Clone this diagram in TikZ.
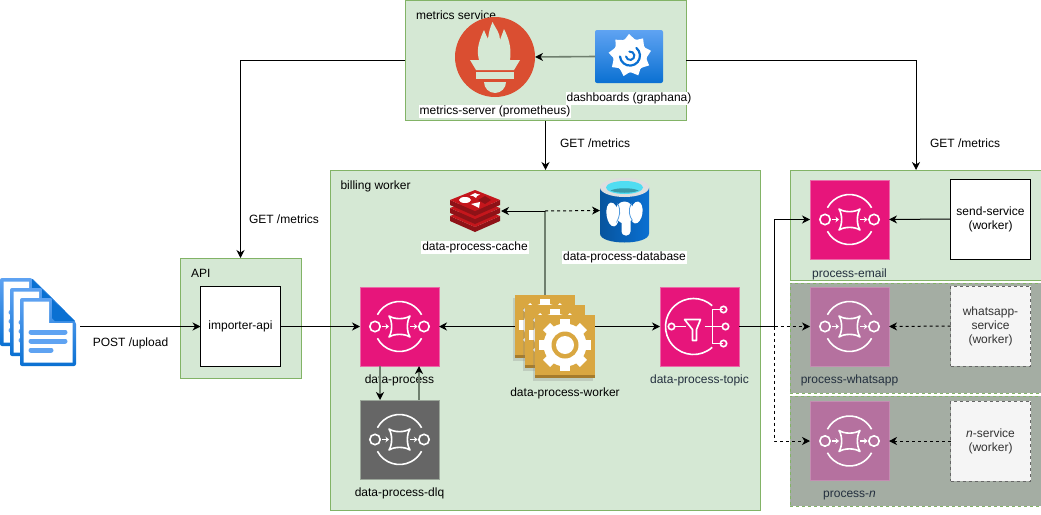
\documentclass[tikz,border=0pt]{standalone}
\usepackage{fontspec}
\setmainfont{Liberation Sans}
\usetikzlibrary{arrows.meta,positioning,shadows}
\definecolor{boxgreen}{HTML}{D5E8D4}
\definecolor{boxedge}{HTML}{82B366}
\definecolor{boxgrey}{HTML}{A4ADA3}
\definecolor{linegrey}{HTML}{6F7F6E}
\definecolor{sqspink}{HTML}{E7157B}
\definecolor{sqsedge}{HTML}{EA6AA8}
\definecolor{sqsfaded}{HTML}{B5719F}
\definecolor{sqsdark}{HTML}{666666}
\definecolor{labelslate}{HTML}{232F3E}
\definecolor{gearsand}{HTML}{D9A741}
\definecolor{gearband}{HTML}{A67C2C}
\definecolor{promred}{HTML}{DA4E31}
\definecolor{bluetop}{HTML}{5FA3F2}
\definecolor{bluelow}{HTML}{0A70D2}
\definecolor{pgcyan}{HTML}{50DDF2}
\definecolor{redistop}{HTML}{C4161C}
\definecolor{redisside}{HTML}{8E1217}
\tikzset{
  pics/queueglyph/.style={code={
    \draw[white, line width=1.6pt] (152:25) arc (152:28:25);
    \draw[white, line width=1.6pt] (208:25) arc (208:332:25);
    \draw[white, line width=1.6pt] (-24.5,0) circle [radius=5.2];
    \draw[white, line width=1.6pt] (24.5,0) circle [radius=5.2];
    \draw[white, line width=1.6pt, line join=round] (-10.5,-10.5) .. controls (-5,-7) and (5,-7) .. (10.5,-10.5) .. controls (7,-5) and (7,5) .. (10.5,10.5) .. controls (5,7) and (-5,7) .. (-10.5,10.5) .. controls (-7,5) and (-7,-5) .. (-10.5,-10.5) -- cycle;
    \draw[white, line width=1.6pt, -{Stealth[length=3.5pt,width=5.5pt]}] (-18,0) -- (-10.5,0);
    \draw[white, line width=1.6pt, -{Stealth[length=3.5pt,width=5.5pt]}] (10.5,0) -- (18,0);
  }},
  pics/topicglyph/.style={code={
    \draw[white, line width=1.6pt] (-6,0) ++(48:28) arc (48:312:28);
    \draw[white, line width=1.6pt, fill=sqspink] (-28,0) circle [radius=3.2];
    \draw[white, line width=1.6pt] (-24.8,0) -- (-14,0);
    \draw[white, line width=1.6pt, line join=round] (-15,-7) -- (1,-7) -- (-3,3) -- (-3,14) -- (-7,14) -- (-7,3) -- cycle;
    \draw[white, line width=1.6pt] (5,0) -- (23,0);
    \draw[white, line width=1.6pt] (23,-17) -- (13,-17) -- (13,17) -- (23,17);
    \draw[white, line width=1.6pt] (24,-17) circle [radius=3.2];
    \draw[white, line width=1.6pt] (26,0) circle [radius=3.2];
    \draw[white, line width=1.6pt] (24,17) circle [radius=3.2];
  }},
  pics/gearglyph/.style={code={
    \foreach \a in {0,45,...,315} {
      \fill[white, rotate=\a] (-5,17) rectangle (5,26);
    }
    \fill[white] (0,0) circle [radius=21.5];
    \fill[gearsand] (0,0) circle [radius=13.5];
    \fill[white] (0,0) circle [radius=9];
  }},
  pics/flameglyph/.style={code={
    \fill[boxgreen] (-16,3) .. controls (-18,-5) and (-18,-12) .. (-11,-27) .. controls (-9,-22) and (-8,-20) .. (-7,-18) .. controls (-6,-26) and (-5,-29) .. (-2.5,-35) .. controls (1,-28) and (5,-24) .. (5,-17) .. controls (6,-20) and (8,-25) .. (9,-28) .. controls (13,-20) and (17,-10) .. (15,3) -- cycle;
    \fill[boxgreen] (-25,3) -- (25,3) -- (19,13) -- (-19,13) -- cycle;
    \fill[boxgreen] (-19,15) rectangle (19,22);
    \fill[boxgreen] (-11,25) -- (11,25) arc (0:180:11) -- cycle;
  }},
  pics/swirlglyph/.style={code={
    \foreach \a in {0,40,...,320} {
      \fill[white, rotate=\a] (-6,-15) -- (-1,-21.5) -- (6,-15) -- cycle;
    }
    \fill[white] (0,0) circle [radius=17];
    \draw[bluelow, line width=2.2pt, line cap=round] (-10,1) arc (175:-50:10);
    \draw[bluelow, line width=2pt, line cap=round] (-4,1) arc (170:-100:4.2);
  }},
  pics/redisglyph/.style={code={
    \foreach \dy in {16,8,0} {
      \fill[redisside] (-25,-11+\dy) -- (-25,-6+\dy) -- (0,5+\dy) -- (25,-6+\dy) -- (25,-11+\dy) -- (0,\dy) -- cycle;
      \fill[redistop] (-25,-11+\dy) -- (0,-21+\dy) -- (25,-11+\dy) -- (0,\dy) -- cycle;
    }
    \fill[white] (-10,-11) ellipse [x radius=6, y radius=3];
    \fill[white] (0,-18) -- (2,-17) -- (5,-16.5) -- (2,-15) -- (1,-13) -- (-2,-15) -- (-5,-15.5) -- (-2,-17) -- cycle;
    \fill[white] (-4,-7) -- (5,-9) -- (4,-3) -- cycle;
    \fill[redisside] (10,-15) -- (16,-11) -- (10,-7) -- (3,-11) -- cycle;
  }},
  pics/elephantglyph/.style={code={
    \shade[left color=bluelow!75!black, right color=bluelow] (-24.5,-23) -- (-24.5,23) .. controls (-24.5,35) and (24.5,35) .. (24.5,23) -- (24.5,-23) -- cycle;
    \fill[black!13] (0,-23) ellipse [x radius=24.5, y radius=9.5];
    \fill[pgcyan] (0,-23) ellipse [x radius=18.5, y radius=6.5];
    \fill[pgcyan!70!black] (-14,-20) .. controls (-8,-17) and (8,-17) .. (14,-20) .. controls (8,-23) and (-8,-23) .. (-14,-20) -- cycle;
    \fill[white, rotate around={8:(-12,4)}] (-12,4) ellipse [x radius=6, y radius=12];
    \fill[white, rotate around={-8:(12,2)}] (12,2) ellipse [x radius=6, y radius=11];
    \fill[white] (0,2) ellipse [x radius=9.5, y radius=11];
    \fill[white, rounded corners=4pt] (-3,6) rectangle (6,25);
    \draw[bluelow!70, line width=.8pt] (-7,-7) .. controls (-3,0) and (-5,6) .. (-8,12);
    \draw[bluelow!70, line width=.8pt] (7,-7) .. controls (3,0) and (5,6) .. (8,10);
  }},
  pics/pageglyph/.style={code={
    \shade[top color=bluetop, bottom color=bluelow, rounded corners=2pt] (-28,-34) -- (4,-34) -- (28,-10) -- (28,34) -- (-28,34) -- cycle;
    \fill[white] (-24.5,-30.5) -- (1,-30.5) -- (1,-9) -- (24.5,-9) -- (24.5,30.5) -- (-24.5,30.5) -- cycle;
    \fill[bluelow] (4,-33) -- (27,-11) -- (7,-11) -- (4,-14) -- cycle;
    \draw[bluetop, line width=5pt, line cap=round] (-17,0) -- (17,0);
    \draw[bluetop, line width=5pt, line cap=round] (-17,9) -- (17,9);
    \draw[bluetop, line width=5pt, line cap=round] (-17,18) -- (3,18);
  }}
}
\begin{document}
\begin{tikzpicture}[
    x=1pt, y=-1pt,
    >={Stealth[length=8pt,width=8pt,inset=2.5pt]},
    every node/.style={font=\fontsize{12}{14}\selectfont, outer sep=0pt},
    container/.style={rectangle, draw=boxedge, fill=boxgreen, line width=1pt},
    faded/.style={container, fill=boxgrey, dashed},
    queue/.style={rectangle, draw=sqsedge, fill=sqspink, minimum width=79pt, minimum height=79pt},
    fadedqueue/.style={queue, draw=sqsfaded!80!white, fill=sqsfaded},
    darkqueue/.style={queue, draw=linegrey!70!white, fill=sqsdark},
    service/.style={rectangle, draw, fill=white, minimum width=80pt, minimum height=80pt, align=center, line width=1pt},
    fadedservice/.style={service, draw=black!60, fill=black!4, dashed, text=black!80},
    geartile/.style={rectangle, fill=gearsand, minimum width=60pt, minimum height=63pt, drop shadow={shadow xshift=-2.5pt, shadow yshift=-2.5pt, opacity=.25}},
    caption/.style={inner sep=0pt, align=center},
    whitecaption/.style={caption, fill=white, inner sep=1pt},
    slatecaption/.style={caption, text=labelslate},
    link/.style={->, line width=1pt},
    greylink/.style={-{Stealth[length=8pt,width=8pt,inset=2.5pt,black]}, draw=linegrey, line width=1.6pt},
    dashlink/.style={link, dashed}
  ]
    \useasboundingbox (0,0) rectangle (1041,514);

    \node[container, minimum width=281pt, minimum height=120pt] (metrics) at (545.5,60.5) {};
    \node[container, minimum width=430pt, minimum height=340pt, below=49.5pt of metrics] (billing) {};
    \node[container, minimum width=121pt, minimum height=120pt] (api) at (240.5,318) {};
    \node[container, minimum width=252pt, minimum height=110pt] (email) at (916,225) {};
    \node[faded, minimum width=252pt, minimum height=110pt, below=3pt of email] (whatsapp) {};
    \node[faded, minimum width=252pt, minimum height=110pt, below=3pt of whatsapp] (nbox) {};

    \node[caption, below right=10pt and 11pt of metrics.north west] (metricslabel) {metrics service};
    \node[caption, below right=11pt and 10pt of billing.north west] (billinglabel) {billing worker};
    \node[caption, below right=11.5pt and 11pt of api.north west] (apilabel) {API};

    \node[circle, fill=promred, minimum size=80pt, inner sep=0pt] (prometheus) at (495,57) {};
    \pic at (prometheus.center) {flameglyph};
    \node[rectangle, rounded corners=2pt, top color=bluetop, bottom color=bluelow, minimum width=68pt, minimum height=53pt] (grafana) at (629,56.5) {};
    \pic at (630,55.5) {swirlglyph};
    \node[whitecaption, below=8pt of prometheus] (prometheuslabel) {metrics-server (prometheus)};
    \node[whitecaption, below=9pt of grafana] (grafanalabel) {dashboards (graphana)};

    \node[minimum width=52pt, minimum height=42pt, inner sep=0pt] (redis) at (475,211) {};
    \pic at (redis.center) {redisglyph};
    \node[minimum width=49pt, minimum height=65pt, inner sep=0pt] (postgres) at (624.5,210.5) {};
    \pic at (postgres.center) {elephantglyph};
    \node[whitecaption, below=9pt of redis] (redislabel) {data-process-cache};
    \node[whitecaption, below=8pt of postgres] (postgreslabel) {data-process-database};

    \node[service] (importer) at (240.5,326.5) {importer-api};

    \node[queue] (dataprocess) at (399.5,326.5) {};
    \pic at (dataprocess.center) {queueglyph};
    \node[caption, below=8.5pt of dataprocess] (dataprocesslabel) {data-process};
    \node[darkqueue, below=34pt of dataprocess] (dlq) {};
    \pic at (dlq.center) {queueglyph};
    \node[caption, below=9pt of dlq] (dlqlabel) {data-process-dlq};

    \node[queue] (topic) at (699.5,326.5) {};
    \pic at (topic.center) {topicglyph};
    \node[slatecaption, below=8.5pt of topic] (topiclabel) {data-process-topic};

    \foreach \name/\xc/\yc in {workera/545/326.5, workerb/555/336.5, workerc/565/346.5} {
      \node[geartile] (\name) at (\xc,\yc) {};
      \fill[gearband] (\name.south west) rectangle ([yshift=3pt]\name.south east);
      \pic at ([yshift=1.5pt]\name.center) {gearglyph};
    }
    \node[caption, below=10pt of workerc] (workerlabel) {data-process-worker};

    \node[queue] (emailqueue) at (849.5,219.5) {};
    \pic at (emailqueue.center) {queueglyph};
    \node[slatecaption, below=9.5pt of emailqueue] (emaillabel) {process-email};
    \node[service] (sendservice) at (990.5,219) {send-service\\(worker)};

    \node[fadedqueue] (whatsappqueue) at (849.5,326.5) {};
    \pic at (whatsappqueue.center) {queueglyph};
    \node[slatecaption, below=8.5pt of whatsappqueue] (whatsapplabel) {process-whatsapp};
    \node[fadedservice] (whatsappservice) at (990.5,326) {whatsapp-\\service\\(worker)};

    \node[fadedqueue] (nqueue) at (849.5,441) {};
    \pic at (nqueue.center) {queueglyph};
    \node[slatecaption, below=11pt of nqueue] (nlabel) {process-\textit{n}};
    \node[fadedservice] (nservice) at (990.5,441) {\textit{n}-service\\(worker)};

    \node[minimum width=56pt, minimum height=68pt, inner sep=0pt] (docs) at (48,332) {};
    \pic at (28,312) {pageglyph};
    \pic at (38,322) {pageglyph};
    \pic at (docs.center) {pageglyph};

    \node[caption] (postlabel) at (130.5,343.5) {POST /upload};
    \node[caption] (getapi) at (284,219) {GET /metrics};
    \node[caption] (getbilling) at (595,143) {GET /metrics};
    \node[caption] (getemail) at (965,143) {GET /metrics};

    \coordinate (upload) at (80,326.5);
    \coordinate (fork) at (774.5,326.5);
    \coordinate (tee) at (545,211);

    \draw[link] (metrics.west) -| (api.north);
    \draw[link] (metrics.south) -- (billing.north);
    \draw[link] (metrics.east) -| (email.north);
    \draw[greylink] (grafana.west) -- (prometheus.east);

    \draw[link] (upload) -- (importer.west);
    \draw[link] (importer.east) -- (dataprocess.west);
    \draw[link] (workera.west) -- (dataprocess.east);
    \draw[link] (workerc.east |- topic.west) -- (topic.west);

    \draw[line width=1.6pt, draw=linegrey] (workera.north) -- (tee);
    \draw[link] (tee) -- (redis.east);
    \draw[dashlink] (tee) -- (postgres.west);

    \draw[greylink] ([xshift=-19.5pt]dataprocess.south) -- ([xshift=-19.5pt]dlq.north);
    \draw[greylink] ([xshift=19.5pt]dlq.north) -- ([xshift=19.5pt]dataprocess.south);

    \draw[link] (topic.east) -- (fork) |- (emailqueue.west);
    \draw[dashlink] (fork) -- (whatsappqueue.west);
    \draw[dashlink] (fork) |- (nqueue.west);

    \draw[link] (sendservice.west) -- (emailqueue.east);
    \draw[dashlink] (whatsappservice.west) -- (whatsappqueue.east);
    \draw[dashlink] (nservice.west) -- (nqueue.east);
  \end{tikzpicture}
\end{document}
